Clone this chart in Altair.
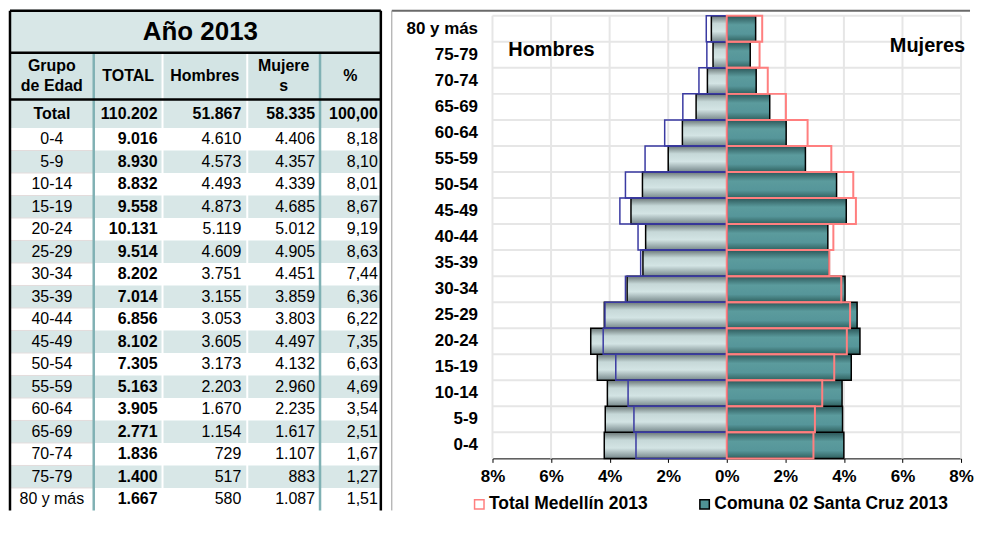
import altair as alt
import pandas as pd

# ---------------- data ----------------
groups = ["0-4", "5-9", "10-14", "15-19", "20-24", "25-29", "30-34", "35-39",
          "40-44", "45-49", "50-54", "55-59", "60-64", "65-69", "70-74", "75-79", "80 y más"]
total = [9016, 8930, 8832, 9558, 10131, 9514, 8202, 7014, 6856, 8102, 7305, 5163,
         3905, 2771, 1836, 1400, 1667]
hombres = [4610, 4573, 4493, 4873, 5119, 4609, 3751, 3155, 3053, 3605, 3173, 2203,
           1670, 1154, 729, 517, 580]
mujeres = [4406, 4357, 4339, 4685, 5012, 4905, 4451, 3859, 3803, 4497, 4132, 2960,
           2235, 1617, 1107, 883, 1087]
pct = [8.18, 8.10, 8.01, 8.67, 9.19, 8.63, 7.44, 6.36, 6.22, 7.35, 6.63, 4.69,
       3.54, 2.51, 1.67, 1.27, 1.51]
total_label = "Total"
total_all = 110202
total_h = 51867
total_m = 58335
total_pct = 100.00
# Total Medellín 2013 (% of population)
medellin_h = [3.10, 3.17, 3.37, 3.79, 4.22, 4.16, 3.46, 2.94, 3.03, 3.65, 3.46, 2.79,
              2.12, 1.50, 0.95, 0.68, 0.70]
medellin_m = [2.96, 3.01, 3.26, 3.67, 4.10, 4.21, 3.91, 3.50, 3.64, 4.41, 4.32, 3.57,
              2.76, 2.02, 1.40, 1.12, 1.21]
legend_labels = ["Total Medellín 2013", "Comuna 02 Santa Cruz 2013"]
axis_ticks = [-8, -6, -4, -2, 0, 2, 4, 6, 8]
header = ["Grupo\nde Edad", "TOTAL", "Hombres", "Mujere\ns", "%"]
table_title = "Año 2013"
side_labels = ["Hombres", "Mujeres"]

# ---------------- style / layout ----------------
FONT = "Liberation Sans"
LIGHT = "#d8e7e7"
HEAD = "#d3e4e4"
TEAL_LINE = "#80b1b4"
COLS = [9, 93, 162, 247, 320, 381]
R_INSET = [5, 6, 5, 3]
Y_TOP, Y_HEAD, Y_TOTAL, Y_ROWS = 6, 51, 100, 130
ROW_H = 23.6
n = len(groups)
Y_BOTTOM = Y_ROWS + ROW_H * n


def fmt_int(v):
    return f"{v:,}".replace(",", ".")


def fmt_pct(v):
    return f"{v:.2f}".replace(".", ",")


def cx(c):
    return (COLS[c] + COLS[c + 1]) / 2


def rx(c):
    return COLS[c + 1] - R_INSET[c - 1]


# ---------------- table ----------------
rects = [
    dict(x=COLS[0], x2=COLS[-1], y=Y_TOP, y2=Y_HEAD, fill=LIGHT),
    dict(x=COLS[0], x2=COLS[-1], y=Y_HEAD, y2=Y_TOTAL, fill=HEAD),
    dict(x=COLS[0], x2=COLS[-1], y=Y_TOTAL, y2=Y_ROWS, fill=LIGHT),
]
for i in range(n):
    rects.append(dict(x=COLS[0], x2=COLS[-1], y=Y_ROWS + ROW_H * i,
                      y2=Y_ROWS + ROW_H * (i + 1),
                      fill="white" if i % 2 == 0 else LIGHT))
rects_df = pd.DataFrame(rects)

rules = []
for i in range(1, n):
    yy = Y_ROWS + ROW_H * i
    rules.append(dict(x=COLS[0], x2=COLS[1], y=yy, y2=yy, color="#e3dcdc", w=1))
for c in (2, 3):
    rules.append(dict(x=COLS[c], x2=COLS[c], y=Y_HEAD, y2=Y_BOTTOM, color="white", w=2))
for c in (1, 4):
    rules.append(dict(x=COLS[c], x2=COLS[c], y=Y_HEAD, y2=Y_BOTTOM, color=TEAL_LINE, w=2.5))
for yy in (Y_HEAD, Y_TOTAL):
    rules.append(dict(x=COLS[0], x2=COLS[-1], y=yy, y2=yy, color="black", w=2.5))
rules.append(dict(x=COLS[0], x2=COLS[-1], y=Y_TOP + 1, y2=Y_TOP + 1, color="black", w=2.5))
rules.append(dict(x=COLS[0], x2=COLS[0], y=Y_TOP + 1, y2=Y_BOTTOM, color="black", w=2.5))
rules.append(dict(x=COLS[-1], x2=COLS[-1], y=Y_TOP + 1, y2=Y_BOTTOM, color="black", w=2.5))
# chart panel border (top and left)
rules.append(dict(x=392, x2=972, y=7, y2=7, color="#6a6a6a", w=2))
rules.append(dict(x=392, x2=392, y=7, y2=Y_BOTTOM, color="#9a9a9a", w=1))
rules_df = pd.DataFrame(rules)

row_y = [Y_ROWS + ROW_H * (i + 0.5) for i in range(n)]
head_y = (Y_HEAD + Y_TOTAL) / 2
tot_y = (Y_TOTAL + Y_ROWS) / 2

title_df = pd.DataFrame([dict(x=200, y=(Y_TOP + Y_HEAD) / 2 + 1, t=table_title)])
head_df = pd.DataFrame([dict(x=cx(c), y=head_y - (10 if "\n" in h else 0), t=h)
                        for c, h in enumerate(header)])
center_bold = pd.DataFrame([dict(x=cx(0), y=tot_y, t=total_label)])
right_bold = pd.DataFrame(
    [dict(x=rx(1), y=tot_y, t=fmt_int(total_all)),
     dict(x=rx(2), y=tot_y, t=fmt_int(total_h)),
     dict(x=rx(3), y=tot_y, t=fmt_int(total_m)),
     dict(x=rx(4), y=tot_y, t=fmt_pct(total_pct))]
    + [dict(x=rx(1), y=row_y[i], t=fmt_int(total[i])) for i in range(n)])
right_reg = pd.DataFrame(
    [dict(x=rx(2), y=row_y[i], t=fmt_int(hombres[i])) for i in range(n)]
    + [dict(x=rx(3), y=row_y[i], t=fmt_int(mujeres[i])) for i in range(n)]
    + [dict(x=rx(4), y=row_y[i], t=fmt_pct(pct[i])) for i in range(n)])
center_reg = pd.DataFrame([dict(x=cx(0), y=row_y[i], t=groups[i]) for i in range(n)])

tx = alt.Scale(domain=[8, 382], nice=False, zero=False)
ty = alt.Scale(domain=[6, 532], nice=False, zero=False, reverse=True)
TX = alt.X("x:Q", scale=tx, axis=None)
TY = alt.Y("y:Q", scale=ty, axis=None)

bg = alt.Chart(rects_df).mark_rect().encode(
    x=TX, x2="x2:Q", y=TY, y2="y2:Q", color=alt.Color("fill:N", scale=None))
lines = alt.Chart(rules_df).mark_rule().encode(
    x=TX, x2="x2:Q", y=TY, y2="y2:Q",
    color=alt.Color("color:N", scale=None),
    strokeWidth=alt.StrokeWidth("w:Q", scale=None))


def text_layer(df, **kw):
    return alt.Chart(df).mark_text(color="black", baseline="middle", **kw).encode(
        x=TX, y=TY, text="t:N")


table = alt.layer(
    bg, lines,
    text_layer(title_df, fontSize=26, fontWeight="bold", align="center"),
    text_layer(head_df, fontSize=16, fontWeight="bold", align="center",
               lineBreak="\n", lineHeight=20),
    text_layer(center_bold, fontSize=16, fontWeight="bold", align="center"),
    text_layer(right_bold, fontSize=16, fontWeight="bold", align="right"),
    text_layer(right_reg, fontSize=16, align="right"),
    text_layer(center_reg, fontSize=16, align="center"),
).properties(width=374, height=503)

# ---------------- pyramid ----------------
TOT = total_all
pyr = pd.DataFrame({
    "group": groups,
    "comuna_h": [-h / TOT * 100 for h in hombres],
    "comuna_m": [m / TOT * 100 for m in mujeres],
    "med_h": [-v for v in medellin_h],
    "med_m": medellin_m,
})
ticks_df = pd.DataFrame({"t": axis_ticks})

xscale = alt.Scale(domain=[-8, 8], nice=False, zero=False)
yscale = alt.Scale(domain=groups[::-1], range=[6, 450], paddingInner=0, paddingOuter=0)
xaxis = alt.Axis(values=axis_ticks, labelExpr="abs(datum.value) + '%'", grid=False,
                 domainColor="black", domainWidth=1, tickColor="black", tickSize=4,
                 labelFontSize=17, labelFontWeight="bold", labelColor="black",
                 labelPadding=6, labelFlush=False)
yaxis = alt.Axis(ticks=False, domain=False, grid=False, labelFontSize=17,
                 labelFontWeight="bold", labelColor="black", labelPadding=15)


def XQ(field):
    return alt.X(field, scale=xscale, axis=xaxis, title=None)


Y = alt.Y("group:N", scale=yscale, axis=yaxis, title=None)

grad_men = alt.Gradient(gradient="linear", x1=0, x2=0, y1=0, y2=1, stops=[
    alt.GradientStop(offset=0, color="#6a7676"),
    alt.GradientStop(offset=0.3, color="#c6d8d8"),
    alt.GradientStop(offset=0.6, color="#d3e4e4"),
    alt.GradientStop(offset=1, color="#76878a")])
grad_women = alt.Gradient(gradient="linear", x1=0, x2=0, y1=0, y2=1, stops=[
    alt.GradientStop(offset=0, color="#2b5658"),
    alt.GradientStop(offset=0.35, color="#5b9b9d"),
    alt.GradientStop(offset=0.7, color="#56969a"),
    alt.GradientStop(offset=1, color="#30615f")])

hgrid = alt.Chart(pyr).mark_rule(color="#e6e6e6", strokeWidth=2).encode(
    y=alt.Y("group:N", scale=yscale, axis=yaxis, title=None, bandPosition=0))
vgrid = alt.Chart(ticks_df).mark_rule(color="#e6e6e6", strokeWidth=2).encode(
    x=XQ("t:Q"), y=alt.value(6), y2=alt.value(450))

c_men = alt.Chart(pyr).mark_bar(fill=grad_men, stroke="black", strokeWidth=1.5).encode(
    y=Y, x=XQ("comuna_h:Q"), x2=alt.datum(0))
c_women = alt.Chart(pyr).mark_bar(fill=grad_women, stroke="black", strokeWidth=1.5).encode(
    y=Y, x=XQ("comuna_m:Q"), x2=alt.datum(0))
m_men = alt.Chart(pyr).mark_bar(filled=False, color="#3a3aa2", strokeWidth=1.5).encode(
    y=Y, x=XQ("med_h:Q"), x2=alt.datum(0))
m_women = alt.Chart(pyr).mark_bar(filled=False, color="#ff7f7f", strokeWidth=2).encode(
    y=Y, x=XQ("med_m:Q"), x2=alt.datum(0))

lab_h = alt.Chart(pd.DataFrame({"t": [side_labels[0]]})).mark_text(
    fontSize=20, fontWeight="bold", color="black", align="left", baseline="middle").encode(
    x=alt.datum(-7.46, scale=xscale, axis=xaxis, title=None), y=alt.value(40), text="t:N")
lab_m = alt.Chart(pd.DataFrame({"t": [side_labels[1]]})).mark_text(
    fontSize=20, fontWeight="bold", color="black", align="right", baseline="middle").encode(
    x=alt.datum(8.14, scale=xscale, axis=xaxis, title=None), y=alt.value(36), text="t:N")

leg = dict(orient="none", legendX=463, legendY=487, direction="horizontal", title=None,
           labelFontSize=17.5, labelFontWeight="bold", labelColor="black", labelLimit=400,
           symbolType="square", symbolSize=90, symbolStrokeWidth=1.5,
           labelOffset=1, columnPadding=48, padding=0)
legend_layer = alt.Chart(pd.DataFrame({"leyenda": legend_labels})).transform_filter(
    "false").mark_point(shape="square", filled=True, opacity=1).encode(
    fill=alt.Fill("leyenda:N", scale=alt.Scale(domain=legend_labels,
                                               range=["white", "#4f9395"]),
                  legend=alt.Legend(**leg)),
    stroke=alt.Stroke("leyenda:N", scale=alt.Scale(domain=legend_labels,
                                                   range=["#ff7f7f", "black"]),
                      legend=alt.Legend(**leg)))

pyramid = alt.layer(hgrid, vgrid, c_men, c_women, m_men, m_women, lab_h, lab_m,
                    legend_layer).properties(width=470, height=450)

chart = alt.hconcat(table, pyramid, spacing=111, bounds="flush").properties(
    padding=0).configure(font=FONT).configure_view(strokeWidth=0)

chart.save("out.html", embed_options={"renderer": "svg", "actions": False})
